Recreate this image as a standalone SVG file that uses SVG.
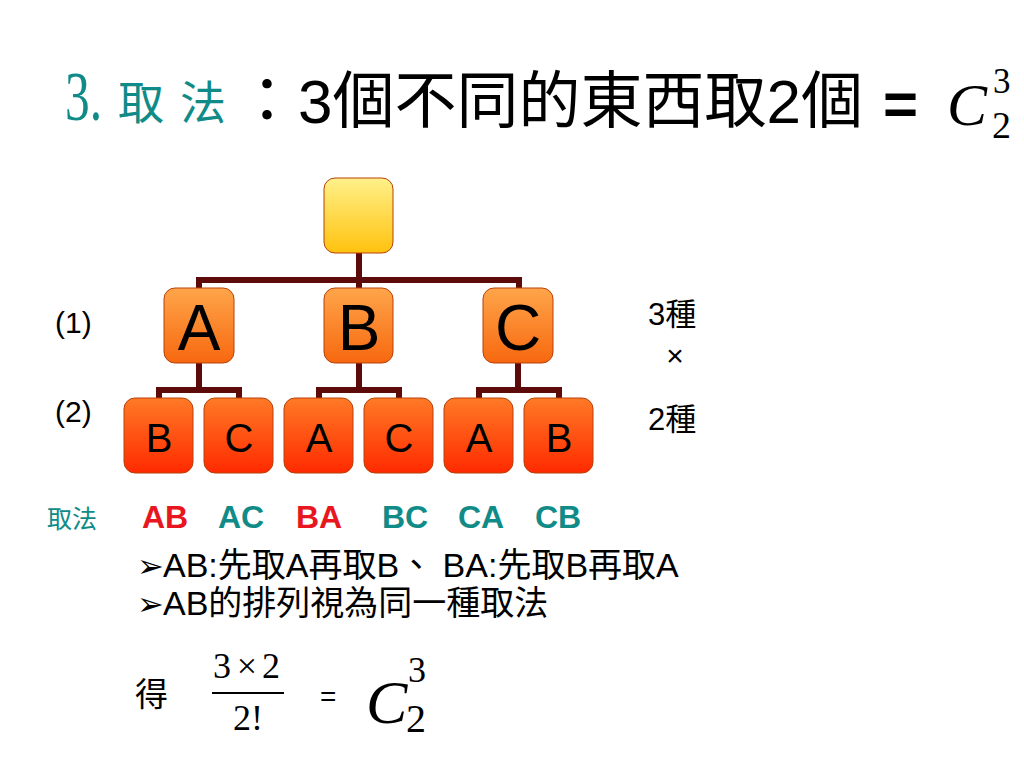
<svg xmlns="http://www.w3.org/2000/svg" width="1024" height="768" viewBox="0 0 1024 768">
<defs>
<linearGradient id="gRoot" x1="0" y1="0" x2="0" y2="1"><stop offset="0" stop-color="#fff18a"/><stop offset="1" stop-color="#ffc20e"/></linearGradient>
<linearGradient id="gL1" x1="0" y1="0" x2="0" y2="1"><stop offset="0" stop-color="#ffa54a"/><stop offset="1" stop-color="#f7680f"/></linearGradient>
<linearGradient id="gL2" x1="0" y1="0" x2="0" y2="1"><stop offset="0" stop-color="#ff7a26"/><stop offset="1" stop-color="#ff2a00"/></linearGradient>
</defs>
<style>
.box{stroke:#b8400a;stroke-width:1}
.conn{fill:none;stroke:#5c0a0a;stroke-width:6;stroke-linejoin:miter;stroke-linecap:butt}
.sans{font-family:"Liberation Sans","Noto Sans CJK TC","DejaVu Sans",sans-serif}
.serif{font-family:"Liberation Serif","Noto Sans CJK TC",serif}
.teal{fill:#118b87}
.red{fill:#e8161e}
.l1{font-size:64px;text-anchor:middle;fill:#000}
.l2{font-size:40px;text-anchor:middle;fill:#000}
.pair{font-size:32px;font-weight:bold}
.arrow{font-family:"DejaVu Sans",sans-serif;font-size:32px}
</style>
<rect width="1024" height="768" fill="#fff"/>

<g id="title">
<text class="serif teal" x="65" y="120" font-size="70" textLength="37" lengthAdjust="spacingAndGlyphs">3.</text>
<text class="sans teal" x="118 180" y="119" font-size="46">取法</text>
<text class="sans" x="236" y="123" font-size="62" fill="#000">：3個不同的東西取2個</text>
<text class="sans" x="883" y="124" font-size="60" font-weight="bold" fill="#000">=</text>
<text class="serif" x="947" y="125" font-size="60" font-style="italic" fill="#000">C</text>
<text class="serif" x="993" y="93" font-size="35" fill="#000">3</text>
<text class="serif" x="992" y="138" font-size="38" fill="#000">2</text>
</g>

<g id="connectors">
<path class="conn" d="M359 253 V280 M199 280 H519 M199 277 V288 M359 280 V288 M519 277 V288"/>
<path class="conn" d="M199 363 V390 M159 390 H239 M159 387 V398 M239 387 V398"/>
<path class="conn" d="M359 363 V390 M319 390 H399 M319 387 V398 M399 387 V398"/>
<path class="conn" d="M518 363 V390 M479 390 H559 M479 387 V398 M559 387 V398"/>
</g>

<g id="root"><rect class="box" x="324" y="178" width="69" height="75" rx="11" fill="url(#gRoot)"/></g>

<g id="nA"><rect class="box" x="164" y="288" width="70" height="75" rx="11" fill="url(#gL1)"/><text class="sans l1" x="199" y="350">A</text></g>
<g id="nB"><rect class="box" x="324" y="288" width="69" height="75" rx="11" fill="url(#gL1)"/><text class="sans l1" x="359" y="350">B</text></g>
<g id="nC"><rect class="box" x="483" y="288" width="70" height="75" rx="11" fill="url(#gL1)"/><text class="sans l1" x="518" y="350">C</text></g>

<g id="nAB"><rect class="box" x="124" y="398" width="69" height="75" rx="11" fill="url(#gL2)"/><text class="sans l2" x="159" y="452">B</text></g>
<g id="nAC"><rect class="box" x="204" y="398" width="69" height="75" rx="11" fill="url(#gL2)"/><text class="sans l2" x="239" y="452">C</text></g>
<g id="nBA"><rect class="box" x="284" y="398" width="69" height="75" rx="11" fill="url(#gL2)"/><text class="sans l2" x="319" y="452">A</text></g>
<g id="nBC"><rect class="box" x="364" y="398" width="69" height="75" rx="11" fill="url(#gL2)"/><text class="sans l2" x="399" y="452">C</text></g>
<g id="nCA"><rect class="box" x="444" y="398" width="69" height="75" rx="11" fill="url(#gL2)"/><text class="sans l2" x="479" y="452">A</text></g>
<g id="nCB"><rect class="box" x="524" y="398" width="69" height="75" rx="11" fill="url(#gL2)"/><text class="sans l2" x="559" y="452">B</text></g>

<g id="side-labels" class="sans" font-size="30" fill="#000">
<text x="55" y="333">(1)</text>
<text x="55" y="422">(2)</text>
<text x="648" y="325" font-size="31">3種</text>
<text x="675" y="366" text-anchor="middle" font-size="30">×</text>
<text x="648" y="430" font-size="31">2種</text>
</g>

<g id="pairs" class="sans">
<text class="teal" x="47" y="528" font-size="25">取法</text>
<text class="pair red" x="142" y="528">AB</text>
<text class="pair teal" x="218" y="528">AC</text>
<text class="pair red" x="296" y="528">BA</text>
<text class="pair teal" x="382" y="528">BC</text>
<text class="pair teal" x="458" y="528">CA</text>
<text class="pair teal" x="535" y="528">CB</text>
</g>

<g id="bullets" fill="#000">
<text class="arrow" x="137" y="577">➢</text>
<text class="sans" x="163" y="577" font-size="34">AB:先取A再取B、 BA:先取B再取A</text>
<text class="arrow" x="137" y="615">➢</text>
<text class="sans" x="163" y="615" font-size="34">AB的排列視為同一種取法</text>
</g>

<g id="formula" fill="#000">
<text class="sans" x="135" y="706" font-size="33">得</text>
<text class="serif" x="213" y="678" font-size="36">3</text>
<text class="serif" x="247" y="678" font-size="36" text-anchor="middle">×</text>
<text class="serif" x="262" y="678" font-size="36">2</text>
<line x1="212" y1="693" x2="284" y2="693" stroke="#000" stroke-width="2"/>
<text class="serif" x="233" y="730" font-size="36">2!</text>
<text class="sans" x="320" y="706" font-size="28">=</text>
<text class="serif" x="366" y="723" font-size="62" font-style="italic">C</text>
<text class="serif" x="408" y="682" font-size="36">3</text>
<text class="serif" x="406" y="732" font-size="40">2</text>
</g>
</svg>
